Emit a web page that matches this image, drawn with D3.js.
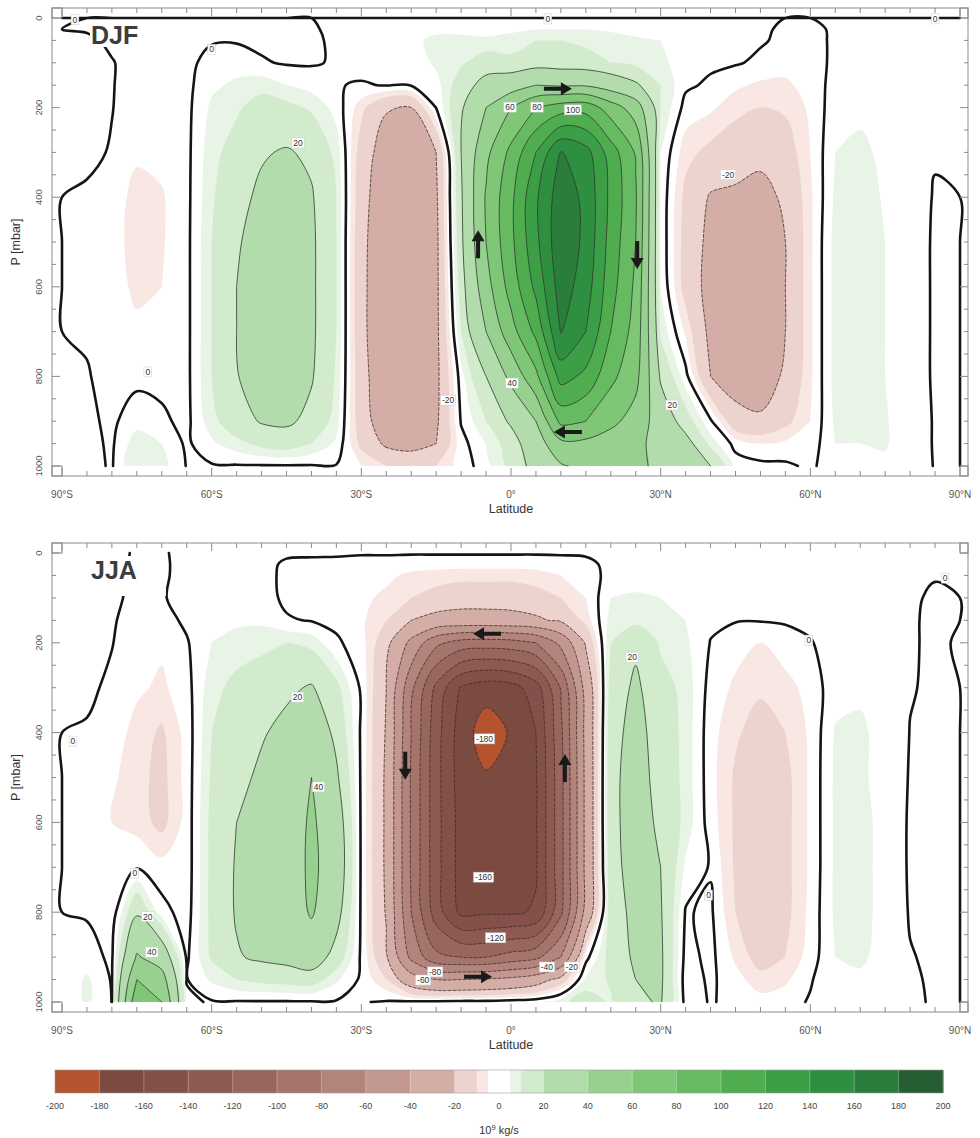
<!DOCTYPE html>
<html>
<head>
<meta charset="utf-8">
<script src="https://cdn.jsdelivr.net/npm/d3@7"></script>
<style>
  body { margin: 0; background: #fff; }
  svg { display: block; }
  text { font-family: "Liberation Sans", Arial, Helvetica, sans-serif; }
</style>
</head>
<body>
<svg id="chart" width="980" height="1138"></svg>
<script>
// ---- grid axes ----
const latitudes = [-90,-85,-80,-75,-70,-65,-60,-55,-50,-45,-40,-35,-30,-25,-20,-15,-10,-5,0,5,10,15,20,25,30,35,40,45,50,55,60,65,70,75,80,85,90];
const pressureLevels = [0,25,50,100,150,200,300,400,500,600,700,800,900,950,1000];

// ---- mass streamfunction, 10^9 kg/s; one row per latitude, values top (0 mbar) to bottom (1000 mbar) ----
const djfPsi = [
  [0,0,0,0,0,0,0,0,0,0,0,0,0,0,0],
  [0,-0.5,1,2,2,2,1.5,-1,-1.5,-1.5,-0.5,0.3,1,1.5,1.5],
  [0,-1,-1,0.3,0.3,0.2,-0.5,-2,-3,-3,-2.5,-1.5,-1,-0.8,-0.5],
  [0,-1,-1.5,-2,-2.5,-3,-4,-7,-7,-6,-4,-1.5,3,8,10],
  [0,-1,-1.5,-2,-2.5,-3,-3.5,-5.5,-5.5,-5,-3.5,-1.5,1,5,7],
  [0,-1,-1,-1.5,-1.5,-1.5,-1.5,-1.5,-1.5,-1.5,-1.5,-1.5,-1.5,-1,-0.3],
  [0,-1,-0.5,2,4,6,8,9,10,10,10,10,8,4,-0.5],
  [0,-1,-0.5,3,6,9,13,17,19,20,20,19.5,15,8,-0.5],
  [0,-1,-1,0.5,8,13,19,22,24,25,25,25,21,12,-0.5],
  [0,-0.8,-1,-0.5,5,12,21,25,27,28,28,27,22,14,-0.5],
  [0,-0.5,-1,-0.5,3,9,18,21,22,22,22,21,17,10,-0.5],
  [0,1,1,0.5,0.3,3,8,10,10,10,10,9,7,4,-0.3],
  [0,1,1.5,2,-0.5,-8,-14,-16,-17,-17,-17,-16,-15,-12,-5],
  [0,1.5,2,1,0.3,-19,-26,-28,-29,-30,-30,-29,-27,-22,-10],
  [0,2,4,1.5,0.5,-20,-28,-30,-31,-31,-31,-30,-28,-24,-12],
  [0,4,6,6,3,0.2,-20,-22,-23,-23,-23,-23,-22,-20,-10],
  [0,4,6,9,14,18,20,18,17,14,10,3,0.5,-2,-3],
  [0,3,6,14,25,40,55,62,60,52,40,20,10,5,3],
  [0,4,7,12,30,60,85,95,95,88,72,45,22,14,12],
  [0,5,10,14,40,80,120,137,135,125,105,75,40,30,25],
  [0,5,10,13,38,90,161,172,175,170,161,128,85,55,38],
  [0,5,9,12,38,92,148,155,155,150,140,115,80,55,45],
  [0,4,8,10,30,70,110,115,112,108,100,85,65,50,45],
  [0,3,6,8,22,50,78,82,80,76,72,66,52,45,42],
  [0,3,5,6,10,10,5,4,4,5,9,18,30,33,38],
  [0,2,3,3,1,-2,-8,-12,-13,-13,-6,2,14,25,40],
  [0,1,2,1,-1,-4,-12,-21,-23,-24,-23,-20,1,8,20],
  [0,1,1.5,0.5,-4,-8,-15,-22,-26,-28,-28,-25,-16,-2,3],
  [0,0.5,0.5,-1,-6,-10,-17,-24,-28,-29,-29,-27,-18,-5,1.5],
  [0,-0.5,-1,-3,-6,-9,-14,-18,-20,-20,-20,-18,-12,-4,1],
  [0,-0.5,-1,-2,-3,-4,-5,-6,-6,-6,-6,-6,-5,-3,-1],
  [0,0.3,0.5,1,2,3,5,6,7,7,7,7,6,5,3],
  [0,0.5,1,2,3,4,6,7,7,7,7,7,6,5,3],
  [0,0.5,1,1.5,2,3,4,4.5,5,5,5,5,5.5,5.5,4],
  [0,0.3,0.5,1,1.5,2,2,2,2,2,2,2,2,2,2],
  [0,0.2,0.3,0.5,0.8,1,0.3,-0.3,-0.5,-0.5,-0.5,-0.5,-0.3,-0.3,-0.2],
  [0,0,0,0,0,0,0,0,0,0,0,0,0,0,0]
];

const jjaPsi = [
  [0,0,0,0,0,0,0,0,0,0,0,0,0,0,0],
  [0.5,1,1,1.5,1.5,1.5,1,-0.5,-2,-3,-2.5,-0.5,2,6,6],
  [0.5,1,1,0.8,0.5,0.2,-1,-2,-4,-5,-5,-3.5,-1,-0.5,-0.1],
  [-0.2,-0.5,-0.7,-1,-2,-3,-4,-7,-8,-7,-0.5,18,42,60,75],
  [-0.2,-0.5,-0.7,-0.5,-2,-4,-6,-11,-12,-12,-3,2,30,48,60],
  [0.5,1,1.5,2,1,-0.5,-2,-3,-3,-3,-3,-2.5,-1,-0.3,1],
  [0.5,1,2,3,4,5,8,10,11,12,12,12,11,6,-0.5],
  [0.5,1,2,3,4,7,12,15,17,20,21,21,19,10,-0.5],
  [0.5,1,1.5,2,4,8,15,19,22,24,25,25,22,12,-0.5],
  [0.5,-0.5,-1,-1,0.5,10,18,23,26,28,28,28,24,13,-0.5],
  [0.5,-0.8,-1.5,-1.5,-0.3,8,21,30,40,43,44,42,28,14,-0.5],
  [0.5,-1,-2,-2,-1.5,1,12,17,22,28,30,25,15,6,-0.5],
  [0.5,-2,-3,-4,-4,-3,-1,-1,-1,-1,-1,-1,-1,-1,-0.3],
  [0.5,-2,-4,-6,-10,-15,-20,-21,-22,-22,-22,-21,-18,-10,0.5],
  [0.5,-3,-6,-10,-20,-45,-75,-80,-82,-82,-82,-80,-65,-30,1],
  [0.5,-3,-7,-13,-24,-75,-125,-132,-133,-133,-133,-130,-95,-40,1.5],
  [0.5,-3,-8,-15,-25,-88,-162,-170,-170,-168,-168,-165,-100,-40,2],
  [0.5,-3,-8,-15,-25,-90,-172,-190,-178,-174,-171,-163,-100,-38,2],
  [0.5,-3,-8,-15,-24,-88,-168,-178,-176,-172,-170,-163,-92,-35,3],
  [0.5,-3,-7,-13,-22,-80,-150,-160,-162,-162,-162,-158,-85,-28,4],
  [0.5,-2,-5,-10,-18,-55,-98,-104,-106,-106,-106,-104,-60,-15,8],
  [0.5,-1,-3,-5,-8,-18,-32,-34,-35,-35,-35,-33,-2,6,14],
  [0.5,1,2,5,7,10,14,16,17,17,16,15,13,11,9],
  [0.5,1,2,6,8,18,22,24,25,25,25,23,22,20,18],
  [0.5,1,2,5,6,9,13,15,16,18,20,21,22,22,21],
  [0.5,1,2,3,5,6,8,8,8,8,4,-0.5,-2,-3,-2],
  [0.5,1,1.5,1.5,1,-0.2,-2,-3,-3,-2.5,-0.5,1,1.5,1,0.3],
  [0.5,1,1.5,1,0.3,-3,-6,-9,-11,-11,-11,-10,-6,-3,-1],
  [0.5,1,1.5,1,0.3,-5,-9,-13,-15,-15,-15,-15,-13,-8,-3],
  [0.5,1,1.5,1.5,0.5,-2,-7,-10,-12,-12,-12,-12,-10,-6,-2],
  [0.5,1,1.5,1.5,1,-0.3,-3,-4,-4,-4,-4,-3.5,-2.5,-0.5,0.5],
  [0.5,1,1.5,2,2,2,3,5.5,6,6,6,6,5,4,3],
  [0.5,1,1.5,2,2.5,3,4,6,6,7,7,7,6,4,2],
  [0.5,1,1.5,2,2,2,2.5,3,3,3,3,3,3,2.5,2],
  [0.5,1,1,0.5,0.3,0.3,0.2,-0.1,-0.3,-0.5,-0.5,-0.3,0.2,0.5,0.5],
  [0.5,0.5,0.2,-0.5,-0.5,-0.5,-0.5,-0.6,-0.7,-0.8,-0.8,-0.8,-0.6,-0.5,-0.3],
  [0,0,0,0,0,0.3,0,0,0,0,0,0,0,0,0]
];

// ---- shading bands and contour levels ----
const bandEdges = [-200,-180,-160,-140,-120,-100,-80,-60,-40,-20,-10,-5,5,10,20,40,60,80,100,120,140,160,180,200];
const bandColors = ["#b4532e","#7b4a41","#83504a","#8d5a52","#99665e","#a5746c","#b3847c","#c2978f","#d4aea6",
                    "#ecd3cd","#f8e7e3","#ffffff","#e8f5e6","#d2ebcd",
                    "#b2dcab","#97d18f","#7fc677","#66bb62","#4fad50","#3c9f47","#2f8f40","#2a7d3a","#245e32"];
const lineLevels = [-180,-160,-140,-120,-100,-80,-60,-40,-20,0,20,40,60,80,100,120,140,160,180];
const colorbarTicks = [-200,-180,-160,-140,-120,-100,-80,-60,-40,-20,0,20,40,60,80,100,120,140,160,180,200];
const latTicks = [-90,-60,-30,0,30,60,90];
const latTickLabels = ["90°S","60°S","30°S","0°","30°N","60°N","90°N"];
const pressureTicks = [0,200,400,600,800,1000];

// ---- contour labels [lat, p, text] ----
const djfLabels = [
  [-87.4,4,"0"],[-60,70,"0"],[-42.7,279,"20"],[-0.2,199,"60"],[5.2,199,"80"],[12.4,205,"100"],
  [43.5,350,"-20"],[0.2,815,"40"],[-12.6,853,"-20"],[32.3,864,"20"],[-72.8,790,"0"],[7.4,2,"0"],[85,2,"0"]
];
const jjaLabels = [
  [-87.8,419,"0"],[-75.4,713,"0"],[-72.8,810,"20"],[-72,889,"40"],[-42.8,321,"20"],[-38.6,521,"40"],
  [-5.3,414,"-180"],[-5.5,722,"-160"],[-3.1,857,"-120"],[-15.2,933,"-80"],[-17.6,951,"-60"],
  [7.2,922,"-40"],[12.2,922,"-20"],[24.3,232,"20"],[39.6,762,"0"],[59.7,194,"0"],[87,56,"0"]
];
// ---- circulation arrows [lat, p, direction] ----
const djfArrows = [[9.4,158,"right"],[-6.6,505,"up"],[25.3,529,"down"],[11.4,924,"left"]];
const jjaArrows = [[-4.8,180,"left"],[-21.2,474,"down"],[10.8,479,"up"],[-6.6,944,"right"]];

const svg = d3.select("#chart");
const X0 = 62, X1 = 960;
const panels = [
  { name: "DJF", psi: djfPsi, labels: djfLabels, arrows: djfArrows, top: 18, bottom: 466, topIsStreamline: true, tagBox: [90, 6, 50, 23] },
  { name: "JJA", psi: jjaPsi, labels: jjaLabels, arrows: jjaArrows, top: 553, bottom: 1002, topIsStreamline: false, tagBox: [88, 3, 78, 40] }
];

function along(arr, f) {
  const n = arr.length;
  f = Math.max(0, Math.min(n - 1, f));
  const i = Math.min(n - 2, Math.floor(f));
  return arr[i] + (f - i) * (arr[i + 1] - arr[i]);
}

// split a contour ring into open polylines, dropping pieces that run along the padded grid border
function openLines(ring, nx, ny) {
  const onPad = c => c[0] === 0 || c[0] === nx || c[1] === 0 || c[1] === ny;
  const pts = ring.slice();
  const f = pts[0], l = pts[pts.length - 1];
  if (f[0] === l[0] && f[1] === l[1]) pts.pop();
  const m = pts.length;
  const s = pts.findIndex(onPad);
  if (s < 0) return [{ pts, closed: true }];
  const out = [];
  let cur = [];
  for (let k = 1; k <= m; k++) {
    const c = pts[(s + k) % m];
    if (onPad(c)) { if (cur.length > 1) out.push({ pts: cur, closed: false }); cur = []; }
    else cur.push(c);
  }
  if (cur.length > 1) out.push({ pts: cur, closed: false });
  return out;
}

const openCurve = d3.line().curve(d3.curveCatmullRom.alpha(0.5));
const closedCurve = d3.line().curve(d3.curveCatmullRomClosed.alpha(0.5));

panels.forEach((pn, idx) => {
  const x = d3.scaleLinear().domain([-90, 90]).range([X0, X1]);
  const y = d3.scaleLinear().domain([0, 1000]).range([pn.top, pn.bottom]);
  const nx = latitudes.length, ny = pressureLevels.length;
  const values = [];
  for (let j = 0; j < ny; j++) for (let i = 0; i < nx; i++) values.push(pn.psi[i][j]);
  const px = c => [x(along(latitudes, c[0] - 0.5)), y(along(pressureLevels, c[1] - 0.5))];
  const gen = d3.contours().size([nx, ny]);

  const clipId = "clip" + idx;
  svg.append("clipPath").attr("id", clipId).append("rect")
    .attr("x", X0).attr("y", pn.top).attr("width", X1 - X0).attr("height", pn.bottom - pn.top);

  // shaded bands
  const fills = svg.append("g").attr("clip-path", `url(#${clipId})`);
  for (let k = 0; k < bandColors.length; k++) {
    const mp = gen.contour(values, bandEdges[k]);
    let d = "";
    mp.coordinates.forEach(poly => poly.forEach(ring => {
      const pts = ring.slice(0, -1).map(px);
      if (pts.length > 2) d += closedCurve(pts);
    }));
    if (d) fills.append("path").attr("d", d).attr("fill", bandColors[k]).attr("fill-rule", "evenodd");
  }

  // contour lines
  const lines = svg.append("g").attr("fill", "none").attr("stroke-linejoin", "round").attr("stroke-linecap", "round");
  lineLevels.forEach(level => {
    const mp = gen.contour(values, level);
    let d = "";
    mp.coordinates.forEach(poly => poly.forEach(ring => openLines(ring, nx, ny).forEach(s => {
      const pts = s.pts.map(px);
      d += s.closed ? closedCurve(pts) : openCurve(pts);
    })));
    if (level === 0 && pn.topIsStreamline) {
      // the model top is itself the zero streamline wherever the top row is exactly zero
      for (let i = 0; i < nx - 1; i++) {
        if (pn.psi[i][0] === 0 && pn.psi[i + 1][0] === 0) d += openCurve([px([i + 0.5, 0.5]), px([i + 1.5, 0.5])]);
      }
    }
    const p = lines.append("path").attr("d", d);
    if (level === 0) p.attr("stroke", "#151515").attr("stroke-width", 2.6);
    else if (level < 0) p.attr("stroke", "#3d2b28").attr("stroke-width", 0.8).attr("stroke-dasharray", "3,2");
    else p.attr("stroke", "#2c3a2c").attr("stroke-width", 0.8);
  });

  // contour labels
  const lab = svg.append("g");
  pn.labels.forEach(([la, pr, t]) => {
    const gx = lab.append("g").attr("transform", `translate(${x(la)},${y(pr)})`);
    const r = gx.append("rect").attr("fill", "#fff").attr("stroke", "#c8c8c8").attr("stroke-width", 0.5);
    const tx = gx.append("text").attr("text-anchor", "middle").attr("dy", "0.35em")
      .attr("font-size", 8.5).attr("fill", "#333").text(t);
    const w = tx.node().getComputedTextLength();
    r.attr("x", -w / 2 - 1.5).attr("y", -5).attr("width", w + 3).attr("height", 10);
  });

  // circulation arrows
  const ang = { right: 0, down: 90, left: 180, up: -90 };
  pn.arrows.forEach(([la, pr, dir]) => {
    svg.append("path")
      .attr("d", "M-14,-2L3,-2L3,-6.5L14,0L3,6.5L3,2L-14,2Z")
      .attr("fill", "#1a1a1a")
      .attr("transform", `translate(${x(la)},${y(pr)}) rotate(${ang[dir]})`);
  });

  // season tag
  const [bx, by, bw, bh] = pn.tagBox;
  svg.append("rect").attr("x", bx).attr("y", pn.top + by).attr("width", bw).attr("height", bh).attr("fill", "#fff");
  svg.append("text").attr("x", 91).attr("y", pn.top + 26).attr("font-size", 25).attr("font-weight", "bold")
    .attr("fill", "#3c3c3c").text(pn.name);

  // frame, corner boxes and ticks
  const fL = 52, fR = 968, fT = pn.top - 10, fB = pn.bottom + 10;
  const ax = svg.append("g").attr("stroke", "#8a8a8a").attr("stroke-width", 1).attr("fill", "none");
  ax.append("rect").attr("x", fL).attr("y", fT).attr("width", fR - fL).attr("height", fB - fT);
  [[fL, fT, X0, pn.top], [X1, fT, fR, pn.top], [fL, pn.bottom, X0, fB], [X1, pn.bottom, fR, fB]].forEach(([a, b, c, d]) => {
    ax.append("rect").attr("x", Math.min(a, c)).attr("y", Math.min(b, d)).attr("width", Math.abs(c - a)).attr("height", Math.abs(d - b));
  });
  latitudes.forEach(la => {
    const len = la % 30 === 0 ? 8 : 5;
    ax.append("line").attr("x1", x(la)).attr("x2", x(la)).attr("y1", fB).attr("y2", fB - len);
    ax.append("line").attr("x1", x(la)).attr("x2", x(la)).attr("y1", fT).attr("y2", fT + len);
  });
  d3.range(0, 1001, 50).forEach(pr => {
    const len = pr % 200 === 0 ? 8 : 4;
    ax.append("line").attr("x1", fL).attr("x2", fL + len).attr("y1", y(pr)).attr("y2", y(pr));
    ax.append("line").attr("x1", fR).attr("x2", fR - len).attr("y1", y(pr)).attr("y2", y(pr));
  });

  // tick labels and axis titles
  latTicks.forEach((la, i) => {
    svg.append("text").attr("x", x(la)).attr("y", fB + 22).attr("text-anchor", "middle")
      .attr("font-size", 10).attr("fill", "#555").text(latTickLabels[i]);
  });
  svg.append("text").attr("x", (X0 + X1) / 2).attr("y", fB + 37).attr("text-anchor", "middle")
    .attr("font-size", 12.5).attr("fill", "#333").text("Latitude");
  pressureTicks.forEach(pr => {
    svg.append("text").attr("transform", `translate(39,${y(pr)}) rotate(-90)`).attr("text-anchor", "middle")
      .attr("dy", "0.35em").attr("font-size", 9.5).attr("fill", "#555").text(pr);
  });
  svg.append("text").attr("transform", `translate(16,${(pn.top + pn.bottom) / 2}) rotate(-90)`)
    .attr("text-anchor", "middle").attr("dy", "0.35em").attr("font-size", 12.5).attr("fill", "#333").text("P [mbar]");
});

// ---- colour bar ----
const cb = d3.scaleLinear().domain([-200, 200]).range([55, 943]);
const cbTop = 1070, cbH = 23;
const cbg = svg.append("g");
for (let k = 0; k < bandColors.length; k++) {
  cbg.append("rect").attr("x", cb(bandEdges[k])).attr("y", cbTop)
    .attr("width", cb(bandEdges[k + 1]) - cb(bandEdges[k]) + 0.5).attr("height", cbH).attr("fill", bandColors[k]);
}
colorbarTicks.slice(1, -1).forEach(t => {
  cbg.append("line").attr("x1", cb(t)).attr("x2", cb(t)).attr("y1", cbTop).attr("y2", cbTop + cbH)
    .attr("stroke", "#fff").attr("stroke-opacity", 0.35).attr("stroke-width", 0.8);
});
cbg.append("rect").attr("x", 55).attr("y", cbTop).attr("width", 888).attr("height", cbH)
  .attr("fill", "none").attr("stroke", "#9a9a9a").attr("stroke-width", 0.6);
colorbarTicks.forEach(t => {
  cbg.append("text").attr("x", cb(t)).attr("y", 1109).attr("text-anchor", "middle")
    .attr("font-size", 9).attr("fill", "#444").text(t);
});
const unit = cbg.append("text").attr("x", 499).attr("y", 1134).attr("text-anchor", "middle")
  .attr("font-size", 11).attr("fill", "#333");
unit.append("tspan").text("10");
unit.append("tspan").attr("dy", -4).attr("font-size", 7.5).text("9");
unit.append("tspan").attr("dy", 4).text(" kg/s");
</script>
</body>
</html>
